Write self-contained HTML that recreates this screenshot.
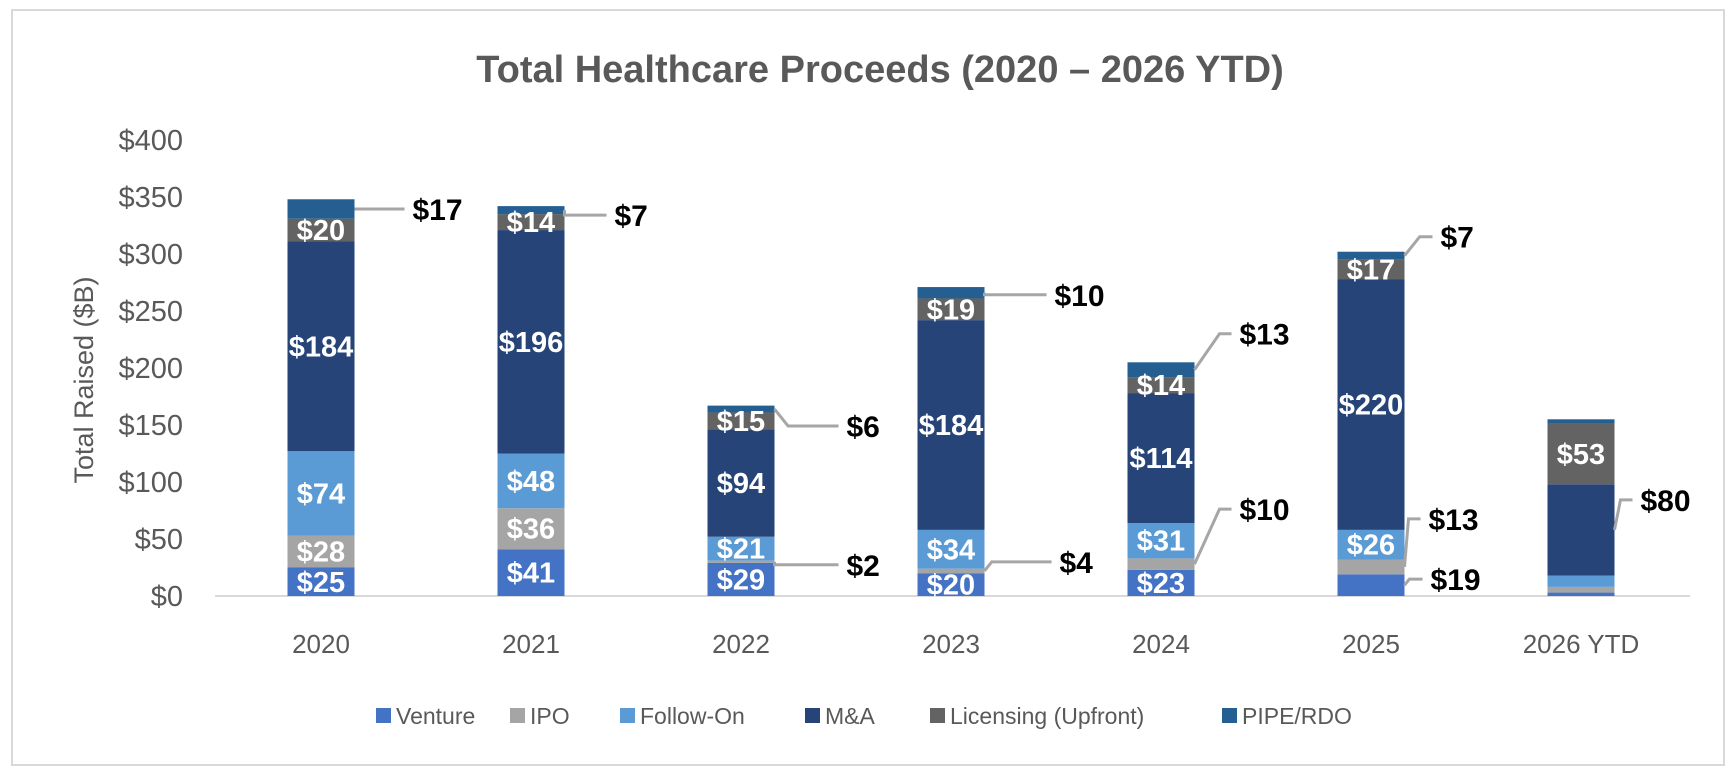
<!DOCTYPE html>
<html><head><meta charset="utf-8">
<style>
body{margin:0;background:#fff;font-family:"Liberation Sans",sans-serif;}
#wrap{position:relative;width:1736px;height:774px;overflow:hidden;}
</style></head>
<body>
<div id="wrap">
<svg id="chart" width="1736" height="774" xmlns="http://www.w3.org/2000/svg">
<rect x="12" y="10" width="1712" height="755" fill="#fff" stroke="#d9d9d9" stroke-width="2"/>
<text x="880" y="82" text-anchor="middle" font-size="38" font-weight="bold" fill="#595959">Total Healthcare Proceeds (2020 – 2026 YTD)</text>
<text transform="translate(93,380) rotate(-90)" text-anchor="middle" font-size="27" fill="#595959">Total Raised ($B)</text>
<g id="axes"></g><g id="bars"></g><g id="labels"></g><g id="legend"></g>
</svg>
</div>
<script>
const categories=["2020","2021","2022","2023","2024","2025","2026 YTD"];
const seriesNames=["Venture","IPO","Follow-On","M&A","Licensing (Upfront)","PIPE/RDO"];
const venture=[25,41,29,20,23,19,3];
const ipo=[28,36,2,4,10,13,5];
const followOn=[74,48,21,34,31,26,10];
const mna=[184,196,94,184,114,220,80];
const licensing=[20,14,15,19,14,17,53];
const pipe=[17,7,6,10,13,7,4];
const yTicks=[0,50,100,150,200,250,300,350,400];
// outside callouts: [categoryIndex, seriesIndex]
const callouts=[[0,5],[1,5],[2,5],[2,1],[3,5],[3,1],[4,5],[4,1],[5,5],[5,1],[5,0],[6,3]];
// callout label layout offsets (not data)
const calloutDy=[0,5,17,3,2,-9,-36,-55,-19,-48,-6,-30];
const calloutDx=[58,50,72,72,70,75,45,45,36,24,26,26];
const colors=["#4472C4","#A5A5A5","#5B9BD5","#264478","#636363","#255E91"];
const series=[venture,ipo,followOn,mna,licensing,pipe];
const NS="http://www.w3.org/2000/svg";
const y0=596,pxPer=1.14,x0=321,step=210,bw=67;
const yScale=v=>y0-v*pxPer;
const xScale=i=>x0+i*step;
function mk(tag,attrs,parent){const e=document.createElementNS(NS,tag);for(const k in attrs)e.setAttribute(k,attrs[k]);parent.appendChild(e);return e;}
const axes=document.getElementById('axes'),bars=document.getElementById('bars'),labels=document.getElementById('labels'),legend=document.getElementById('legend');
yTicks.forEach(t=>{const tx=mk('text',{x:183,y:yScale(t)+10,'text-anchor':'end','font-size':29,fill:'#595959'},axes);tx.textContent='$'+t;

});
const ax=mk('line',{x1:215,x2:1690,y1:y0,y2:y0,stroke:'#d9d9d9','stroke-width':2},axes);


categories.forEach((c,i)=>{const tx=mk('text',{x:xScale(i),y:653,'text-anchor':'middle','font-size':26,fill:'#595959'},axes);tx.textContent=c;

});
const outIdx={};callouts.forEach((c,k)=>outIdx[c[0]+'_'+c[1]]=k);
categories.forEach((c,i)=>{let cum=0;series.forEach((s,j)=>{const v=s[i];const yt=yScale(cum+v),yb=yScale(cum);
const r=mk('rect',{x:xScale(i)-bw/2,y:yt,width:bw,height:yb-yt,fill:colors[j]},bars);


const mid=(yt+yb)/2;const key=i+'_'+j;
if(key in outIdx){const k=outIdx[key];const dy=calloutDy[k],dx=calloutDx[k];const lx=xScale(i)+bw/2;const ly=mid+dy;
const end=lx+dx-8;const bend=Math.abs(dy)<6?lx:Math.min(lx+Math.abs(dy)*0.8,end-12);
const p=mk('polyline',{points:`${lx},${mid} ${bend},${ly} ${end},${ly}`,fill:'none',stroke:'#a6a6a6','stroke-width':3},labels);


const t=mk('text',{x:lx+dx,y:ly+11,'font-size':30,'font-weight':'bold',fill:'#000'},labels);t.textContent='$'+v;


}else if(j!==5&&yb-yt>=15){const t=mk('text',{x:xScale(i),y:mid+10,'text-anchor':'middle','font-size':29,'font-weight':'bold',fill:'#fff'},labels);t.textContent='$'+v;

}
cum+=v;});});
const lx=[376,510,620,805,930,1222];
seriesNames.forEach((n,j)=>{const g=mk('g',{},legend);


mk('rect',{x:lx[j],y:708,width:15,height:15,fill:colors[j]},g);
const t=mk('text',{x:lx[j]+20,y:724,'font-size':23,fill:'#595959'},g);t.textContent=n;});
</script>
</body></html>
